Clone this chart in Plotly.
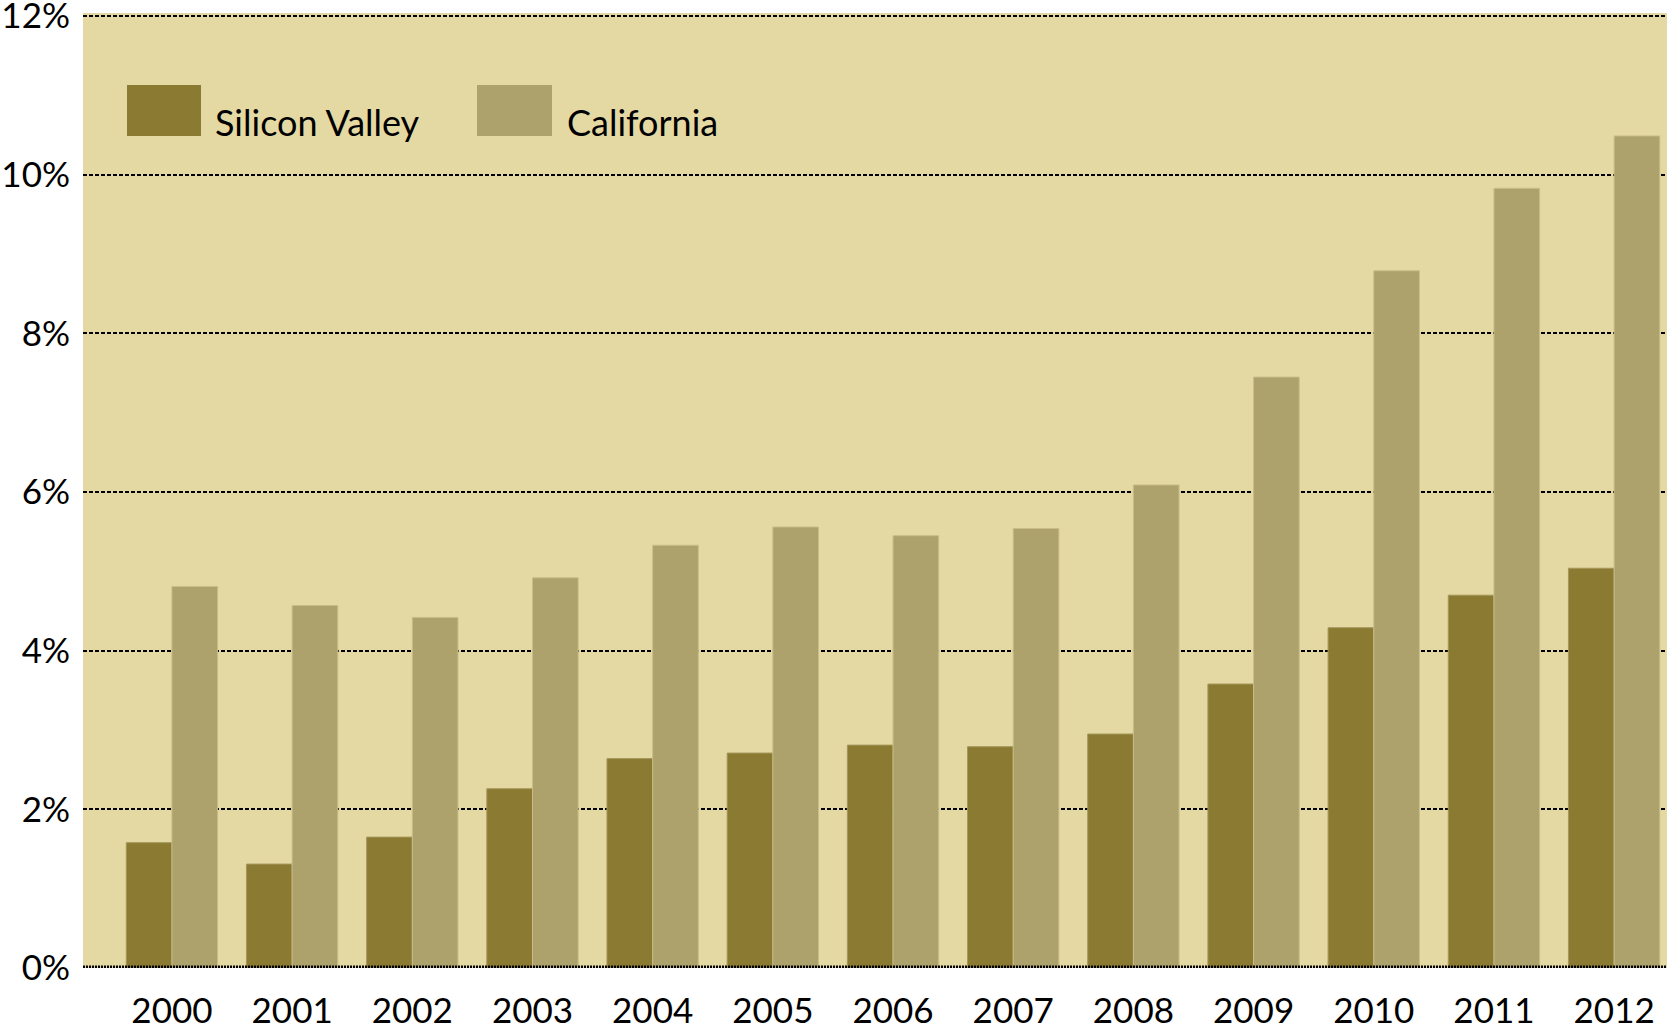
import plotly.graph_objects as go

years = ["2000", "2001", "2002", "2003", "2004", "2005", "2006",
         "2007", "2008", "2009", "2010", "2011", "2012"]
silicon_valley = [1.58, 1.31, 1.65, 2.26, 2.64, 2.71, 2.81, 2.79, 2.95, 3.58, 4.29, 4.70, 5.04]
california = [4.81, 4.57, 4.42, 4.92, 5.33, 5.56, 5.45, 5.54, 6.09, 7.45, 8.79, 9.83, 10.49]
series_names = ["Silicon Valley", "California"]
y_ticks = [0, 2, 4, 6, 8, 10, 12]
y_tick_text = ["0%", "2%", "4%", "6%", "8%", "10%", "12%"]

SV_COLOR = "#8A7A32"
CA_COLOR = "#ADA16C"
BG = "#E5D9A3"
FONT = "Lato"

W, H = 1667, 1029
ML, MR, MT, MB = 83, 0, 13, 61

fig = go.Figure()
fig.add_trace(go.Bar(x=years, y=silicon_valley, name=series_names[0],
                     marker=dict(color=SV_COLOR, line=dict(color="#A4975A", width=1))))
fig.add_trace(go.Bar(x=years, y=california, name=series_names[1],
                     marker=dict(color=CA_COLOR, line=dict(color="#C9BE88", width=1))))

fig.update_layout(
    width=W, height=H, autosize=False,
    margin=dict(l=ML, r=MR, t=MT, b=MB, pad=0, autoexpand=False),
    paper_bgcolor="white", plot_bgcolor=BG,
    barmode="group", bargap=0.24, bargroupgap=0,
    showlegend=False,
    font=dict(family=FONT, color="black"),
)
fig.update_xaxes(type="category", range=[-0.74, 12.44], showgrid=False,
                 showline=False, zeroline=False, automargin=False,
                 ticks="outside", ticklen=12, tickcolor="rgba(0,0,0,0)",
                 ticklabeloverflow="allow",
                 tickfont=dict(size=35, family=FONT, color="black"))
fig.update_yaxes(range=[0, 12.04], tickvals=y_ticks, ticktext=y_tick_text,
                 showgrid=True, gridcolor="black", gridwidth=1.5, griddash="4px,2px",
                 zeroline=False, showline=False, automargin=False,
                 ticks="outside", ticklen=5, tickcolor="rgba(0,0,0,0)",
                 ticklabeloverflow="allow",
                 tickfont=dict(size=35, family=FONT, color="black"))

# thick dotted baseline
fig.add_shape(type="line", xref="paper", yref="y", x0=0, x1=1, y0=0, y1=0,
              line=dict(color="black", width=5, dash="2px,1px"), layer="above")

# custom legend (pixel positions converted to paper coords)
plot_w = W - ML - MR
plot_h = H - MT - MB
def px_x(p):
    return (p - ML) / plot_w
def px_y(p):
    return 1 - (p - MT) / plot_h

legend_items = [(series_names[0], SV_COLOR, 127, 201, 213),
                (series_names[1], CA_COLOR, 477, 552, 565)]
for name, col, x0, x1, tx in legend_items:
    fig.add_shape(type="rect", xref="paper", yref="paper",
                  x0=px_x(x0), x1=px_x(x1), y0=px_y(136), y1=px_y(85),
                  fillcolor=col, line=dict(color=col, width=0))
    fig.add_annotation(xref="paper", yref="paper", x=px_x(tx), y=px_y(122),
                       text=name, showarrow=False, xanchor="left", yanchor="middle",
                       font=dict(size=36, family=FONT, color="black"))

fig.write_html("out.html", config={"displayModeBar": False},
               post_script="document.body.style.margin='0px';")
